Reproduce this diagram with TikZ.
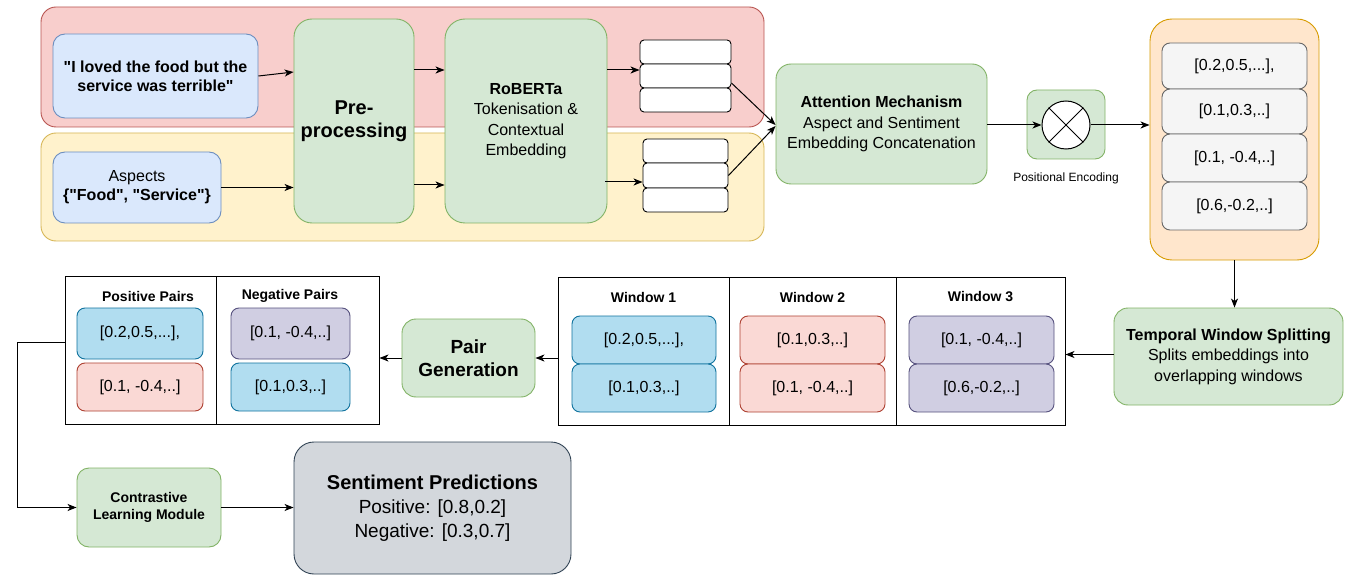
\documentclass[tikz,border=0pt]{standalone}
\usepackage{fontspec}
\setmainfont{Liberation Sans}[Ligatures=TeXOff]
\usetikzlibrary{arrows.meta,calc}
\definecolor{redF}{HTML}{F8CECC}\definecolor{redD}{HTML}{B85450}
\definecolor{yelF}{HTML}{FFF2CC}\definecolor{yelD}{HTML}{D6B656}
\definecolor{bluF}{HTML}{DAE8FC}\definecolor{bluD}{HTML}{6C8EBF}
\definecolor{grnF}{HTML}{D5E8D4}\definecolor{grnD}{HTML}{82B366}
\definecolor{orgF}{HTML}{FFE6CC}\definecolor{orgD}{HTML}{D79B00}
\definecolor{gryF}{HTML}{F5F5F5}\definecolor{gryD}{HTML}{666666}
\definecolor{cyaF}{HTML}{B1DDF0}\definecolor{cyaD}{HTML}{10739E}
\definecolor{pnkF}{HTML}{FAD9D5}\definecolor{pnkD}{HTML}{AE4132}
\definecolor{purF}{HTML}{D0CEE2}\definecolor{purD}{HTML}{56517E}
\definecolor{senF}{HTML}{D3D7DC}\definecolor{senD}{HTML}{314354}
\newcommand\fs[2]{\fontsize{#1}{#2}\selectfont}
\newcommand\bx[7]{%
 \pgfmathsetmacro\myW{#4-#2}\pgfmathsetmacro\myH{#5-#3}%
 \pgfmathsetmacro\myX{(#2+#4)/2}\pgfmathsetmacro\myY{(#3+#5)/2}%
 \node[#6, minimum width=\myW pt, minimum height=\myH pt] (#1) at (\myX,-\myY) {#7};}
\tikzset{
 box/.style={draw, line width=0.9pt, align=center, inner sep=0pt},
 cont/.style={box, rounded corners=15pt},
 blu/.style={box, rounded corners=12pt, fill=bluF, draw=bluD},
 grn/.style={box, fill=grnF, draw=grnD},
 wht/.style={box, fill=white, draw=black, rounded corners=4pt},
 gry/.style={box, fill=gryF, draw=gryD, rounded corners=8pt, font=\fs{16}{19}},
 cya/.style={box, fill=cyaF, draw=cyaD, rounded corners=8pt, font=\fs{16}{19}},
 pnk/.style={box, fill=pnkF, draw=pnkD, rounded corners=8pt, font=\fs{16}{19}},
 pur/.style={box, fill=purF, draw=purD, rounded corners=8pt, font=\fs{16}{19}},
 frame/.style={box, fill=white, draw=black},
 ttl/.style={font=\bfseries\fs{14}{16}, inner sep=0pt},
 arr/.style={line width=1pt, -{Stealth[length=9pt,width=7pt,inset=2.5pt]}},
}
\begin{document}
\begin{tikzpicture}[x=1pt,y=1pt]
\useasboundingbox (0,0) rectangle (1352,-580);
% containers
\bx{redc}{41}{7}{764}{127}{cont, fill=redF, draw=redD}{}
\bx{yelc}{41}{133}{764}{241}{cont, fill=yelF, draw=yelD}{}
% inputs
\bx{sent}{53}{34}{258}{118}{blu, font=\bfseries\fs{16}{19}}{"I loved the food but the\\service was terrible"}
\bx{asp}{53}{152}{221}{223}{blu, font=\fs{16}{19}}{Aspects\\\textbf{\{"Food", "Service"\}}}
\bx{pre}{294}{19}{414}{223}{grn, rounded corners=18pt, font=\bfseries\fs{20}{23}}{Pre-\\processing}
\bx{rob}{445}{19}{607}{223}{grn, rounded corners=20pt, font=\fs{16}{20.5}}{\textbf{RoBERTa}\\Tokenisation \&\\Contextual\\Embedding}
% embedding stacks
\bx{t1}{640}{40}{731}{64}{wht}{}
\bx{t2}{640}{64}{731}{88}{wht}{}
\bx{t3}{640}{88}{731}{112}{wht}{}
\bx{b1}{643}{139}{728}{163}{wht}{}
\bx{b2}{643}{163}{728}{188}{wht}{}
\bx{b3}{643}{188}{728}{212}{wht}{}
% attention
\bx{att}{776}{64}{987}{184}{grn, rounded corners=15pt, font=\fs{16}{20.5}}{\textbf{Attention Mechanism}\\Aspect and Sentiment\\Embedding Concatenation}
\bx{posb}{1027}{90}{1105}{159}{grn, rounded corners=10pt}{}
\node[circle, draw=black, fill=white, line width=1pt, minimum size=48pt, inner sep=0pt] (circ) at (1066,-125) {};
\draw[line width=1pt] (circ.north west) -- (circ.south east) (circ.north east) -- (circ.south west);
\node[font=\fs{12}{14}, inner sep=0pt] (plab) at (1066,-178) {Positional Encoding};
% orange stack
\bx{org}{1150}{19}{1319}{260}{box, fill=orgF, draw=orgD, rounded corners=22pt}{}
\bx{g1}{1162}{43}{1307}{89}{gry}{[0.2,0.5,...],}
\bx{g2}{1162}{89}{1307}{134}{gry}{[0.1,0.3,..]}
\bx{g3}{1162}{134}{1307}{182}{gry}{[0.1, -0.4,..]}
\bx{g4}{1162}{182}{1307}{230}{gry}{[0.6,-0.2,..]}
% temporal
\bx{tmp}{1114}{308}{1343}{405}{grn, rounded corners=14pt, font=\fs{16}{20.5}}{\textbf{Temporal Window Splitting}\\Splits embeddings into\\overlapping windows}
% windows
\bx{win}{558}{277}{1065}{425}{frame}{}
\draw[line width=0.9pt] (729,-277) -- (729,-425) (896,-277) -- (896,-425);
\node[ttl] (wt1) at (643.5,-297) {Window 1};
\node[ttl] (wt2) at (812.5,-297) {Window 2};
\node[ttl] (wt3) at (980.5,-297) {Window 3};
\bx{w1a}{572}{316}{716}{364}{cya}{[0.2,0.5,...],}
\bx{w1b}{572}{364}{716}{412}{cya}{[0.1,0.3,..]}
\bx{w2a}{740}{316}{885}{364}{pnk}{[0.1,0.3,..]}
\bx{w2b}{740}{364}{885}{412}{pnk}{[0.1, -0.4,..]}
\bx{w3a}{909}{316}{1054}{364}{pur}{[0.1, -0.4,..]}
\bx{w3b}{909}{364}{1054}{412}{pur}{[0.6,-0.2,..]}
% pair generation
\bx{pair}{402}{319}{535}{397}{grn, rounded corners=14pt, font=\bfseries\fs{19}{23}}{Pair\\Generation}
\bx{prs}{65}{276}{379}{424}{frame}{}
\draw[line width=0.9pt] (216,-276) -- (216,-424);
\node[ttl] (pt) at (148,-296) {Positive Pairs};
\node[ttl] (nt) at (290,-296) {Negative Pairs};
\bx{p1}{77}{308}{203}{359}{cya}{[0.2,0.5,...],}
\bx{p2}{77}{363}{203}{411}{pnk}{[0.1, -0.4,..]}
\bx{n1}{231}{308}{350}{359}{pur}{[0.1, -0.4,..]}
\bx{n2}{231}{363}{350}{411}{cya}{[0.1,0.3,..]}
% bottom
\bx{ctr}{77}{468}{221}{547}{grn, rounded corners=12pt, font=\bfseries\fs{14}{17}}{Contrastive\\Learning Module}
\bx{sen}{294}{442}{571}{574}{box, fill=senF, draw=senD, rounded corners=20pt, font=\fs{19}{24}}{\textbf{\fs{20}{24}Sentiment Predictions}\\Positive: [0.8,0.2]\\Negative: [0.3,0.7]}
% connectors
\draw[arr] (sent.east) -- ([yshift=49pt]pre.west);
\draw[arr] (asp.east) -- (asp.east -| pre.west);
\draw[arr] ([yshift=51pt]pre.east) -- ([yshift=51pt]rob.west);
\draw[arr] ([yshift=-64pt]pre.east) -- ([yshift=-64pt]rob.west);
\draw[arr] ([yshift=51pt]rob.east) -- ([yshift=51pt]rob.east -| t2.west);
\draw[arr] ([yshift=-61pt,xshift=-2pt]rob.east) -- ([yshift=-61pt]rob.east -| b2.west);
\draw[arr] ([yshift=-7pt]t2.east) -- ([yshift=-1pt]att.west);
\draw[arr] (b2.east) -- ([yshift=-2pt]att.west);
\draw[arr] ([yshift=-1pt]att.east) -- (circ.west);
\draw[arr] (circ.east) -- (circ.east -| org.west);
\draw[arr] (org.south) -- (org.south |- tmp.north);
\draw[arr] ([yshift=2pt]tmp.west) -- ([yshift=2pt]tmp.west -| win.east);
\draw[arr] (pair.east -| win.west) -- (pair.east);
\draw[arr] (pair.west) -- (pair.west -| prs.east);
\coordinate (c1) at (17,-342);
\draw[arr] (prs.west |- c1) -- (c1) |- (ctr.west);
\draw[arr] (ctr.east) -- (ctr.east -| sen.west);
\end{tikzpicture}
\end{document}
